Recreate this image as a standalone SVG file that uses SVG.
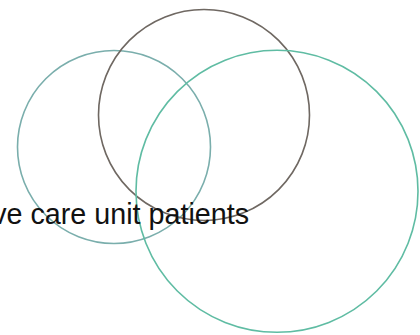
<svg xmlns="http://www.w3.org/2000/svg" width="420" height="335" viewBox="0 0 420 335">
<style>
.ring{fill:none;stroke-width:1.6}
.left{stroke:#7aaeac}
.mid{stroke:#6f6862}
.right{stroke:#5fbca3}
.label{font-family:"Liberation Sans",Arial,sans-serif;font-size:28.7px;fill:#111}
</style>
<rect width="420" height="335" fill="#ffffff"/>
<g id="circle-left"><circle class="ring left" cx="114" cy="147" r="96.5"/></g>
<g id="circle-middle"><circle class="ring mid" cx="204" cy="115" r="105.5"/></g>
<g id="circle-right"><circle class="ring right" cx="277" cy="191.3" r="141"/></g>
<g id="label"><text class="label" x="249" y="224" text-anchor="end">ve care unit patients</text></g>
</svg>
